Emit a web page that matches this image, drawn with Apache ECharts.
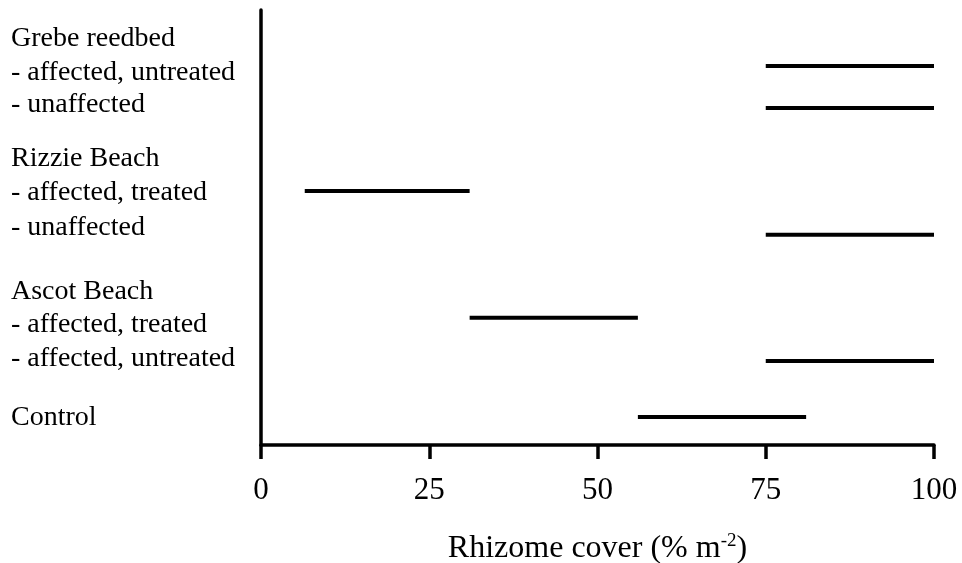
<!DOCTYPE html>
<html>
<head>
<meta charset="utf-8">
<script src="https://cdn.jsdelivr.net/npm/echarts@6/dist/echarts.min.js"></script>
<style>
  html, body { margin: 0; padding: 0; background: #fff; }
  #chart { width: 962px; height: 563px; }
</style>
</head>
<body>
<div id="chart"></div>
<script>
// Row labels on the left, with their vertical position in row units (0 = top)
const labelTexts = [
  'Grebe reedbed', '- affected, untreated', '- unaffected',
  'Rizzie Beach', '- affected, treated', '- unaffected',
  'Ascot Beach', '- affected, treated', '- affected, untreated',
  'Control'
];
const labelRows = [0.87, 1.88, 2.84, 4.45, 5.47, 6.49, 8.43, 9.41, 10.43, 12.19];

// Rhizome cover ranges (% m-2) for each site / treatment
const rangeStart = [75, 75, 6.5, 75, 31, 75, 56];
const rangeEnd   = [100, 100, 31, 100, 56, 100, 81];
const rangeRows  = [1.67, 2.93, 5.41, 6.72, 9.2, 10.49, 12.16];

const xTicks = [0, 25, 50, 75, 100];

const FONT = '"Liberation Serif", "Times New Roman", serif';

const chart = echarts.init(document.getElementById('chart'), null, { renderer: 'canvas' });

const rangeData = rangeStart.map((s, i) => [s, rangeEnd[i], rangeRows[i]]);

chart.setOption({
  animation: false,
  backgroundColor: '#fff',
  grid: { left: 261, right: 28, top: 10, bottom: 118, containLabel: false, outerBoundsMode: 'none' },
  xAxis: {
    type: 'value',
    position: 'bottom',
    min: xTicks[0],
    max: xTicks[xTicks.length - 1],
    interval: 25,
    splitLine: { show: false },
    axisLine: { show: true, onZero: false, lineStyle: { color: '#000', width: 3.5 } },
    axisTick: { show: true, inside: false, length: 14, lineStyle: { color: '#000', width: 3.5 } },
    axisLabel: { color: '#000', fontFamily: FONT, fontSize: 31, margin: 30 },
    name: 'Rhizome cover (% m{sup|-2})',
    nameLocation: 'middle',
    nameGap: 87,
    nameTextStyle: {
      color: '#000', fontFamily: FONT, fontSize: 32,
      rich: { sup: { fontFamily: FONT, fontSize: 19, color: '#000', verticalAlign: 'top', padding: [0, 0, 14, 0] } }
    }
  },
  yAxis: {
    type: 'value',
    inverse: true,
    min: 0,
    max: 13,
    splitLine: { show: false },
    axisTick: { show: false },
    axisLabel: { show: false },
    axisLine: { show: true, onZero: false, lineStyle: { color: '#000', width: 3.5 } }
  },
  series: [{
    type: 'custom',
    data: rangeData,
    encode: { x: [0, 1], y: 2 },
    renderItem: function (params, api) {
      const p0 = api.coord([api.value(0), api.value(2)]);
      const p1 = api.coord([api.value(1), api.value(2)]);
      return {
        type: 'line',
        shape: { x1: p0[0], y1: p0[1], x2: p1[0], y2: p1[1] },
        style: { stroke: '#000', lineWidth: 4 }
      };
    }
  }]
});

// Row labels placed against the y scale
chart.setOption({
  graphic: labelTexts.map((t, i) => ({
    type: 'text',
    left: 11,
    y: chart.convertToPixel({ yAxisIndex: 0 }, labelRows[i]),
    style: {
      text: t,
      fill: '#000',
      font: '28px ' + FONT,
      textVerticalAlign: 'middle',
      verticalAlign: 'middle'
    }
  }))
});
</script>
</body>
</html>
